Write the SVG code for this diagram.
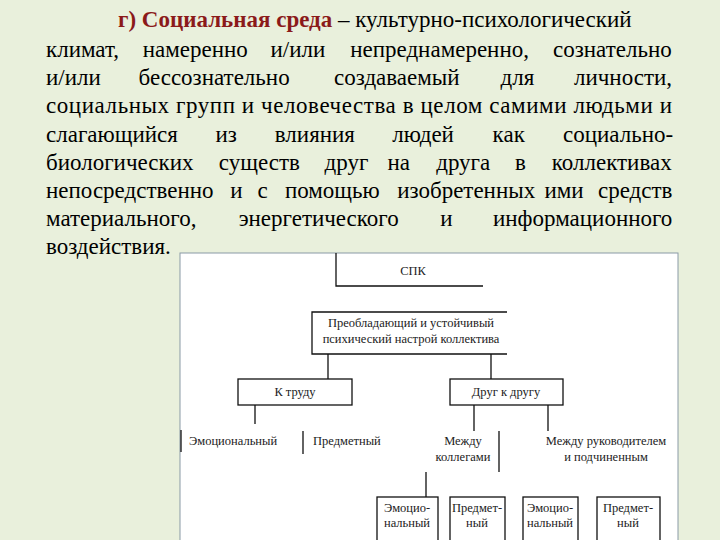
<svg xmlns="http://www.w3.org/2000/svg" width="720" height="540" viewBox="0 0 720 540">
<style>
.t{font-family:"Liberation Serif",serif;font-size:23px;fill:#000}
.r{fill:#8b1a1a;font-weight:bold}
.d{font-family:"Liberation Serif",serif;font-size:12.5px;fill:#222}
.l{stroke:#111;stroke-width:1.3;fill:none}
</style>
<rect width="720" height="540" fill="#e9f0dc"/>
<g id="text">
<text class="t" x="118" y="27"><tspan class="r">г) Социальная среда</tspan> – культурно-психологический</text>
<text class="t" y="57"><tspan x="46">климат,</tspan><tspan x="142.7">намеренно</tspan><tspan x="270.5">и/или</tspan><tspan x="350.2">непреднамеренно,</tspan><tspan x="553">сознательно</tspan></text>
<text class="t" y="85"><tspan x="46">и/или</tspan><tspan x="138.5">бессознательно</tspan><tspan x="334">создаваемый</tspan><tspan x="500.5">для</tspan><tspan x="574">личности,</tspan></text>
<text class="t" x="46" y="113" textLength="626" lengthAdjust="spacing">социальных групп и человечества в целом самими людьми и</text>
<text class="t" y="142"><tspan x="46">слагающийся</tspan><tspan x="215.4">из</tspan><tspan x="274.8">влияния</tspan><tspan x="392.2">людей</tspan><tspan x="492.6">как</tspan><tspan x="563">социально-</tspan></text>
<text class="t" y="170"><tspan x="46">биологических</tspan><tspan x="218.8">существ</tspan><tspan x="324.6">друг</tspan><tspan x="387.4">на</tspan><tspan x="436.2">друга</tspan><tspan x="515">в</tspan><tspan x="551.8">коллективах</tspan></text>
<text class="t" y="198"><tspan x="46">непосредственно</tspan><tspan x="230.3">и</tspan><tspan x="257.6">с</tspan><tspan x="284.9">помощью</tspan><tspan x="397.2">изобретенных</tspan><tspan x="544.5">ими</tspan><tspan x="598">средств</tspan></text>
<text class="t" y="226"><tspan x="46">материального,</tspan><tspan x="238.7">энергетического</tspan><tspan x="440.3">и</tspan><tspan x="493">информационного</tspan></text>
<text class="t" x="46" y="254">воздействия.</text>
</g>
<rect x="180" y="253" width="498" height="290" fill="#fff" stroke="#8a9aa6" stroke-width="1"/>
<g id="connectors">
<path class="l" d="M328 354V379M491 354V379M255 405V424M474 405V431M548 405V431M181 430V452M303 431V454M499 431V472M426 472V497"/>
</g>
<g id="spk"><path class="l" d="M336 253V286H483"/><text class="d" x="413" y="275" text-anchor="middle">СПК</text></g>
<g id="mood"><path class="l" d="M507 312H312V354H507"/><text class="d" x="411" y="327" text-anchor="middle">Преобладающий и устойчивый</text><text class="d" x="411" y="343" text-anchor="middle">психический настрой коллектива</text></g>
<g id="work"><rect class="l" x="238" y="379" width="114" height="26"/><text class="d" x="295" y="396" text-anchor="middle">К труду</text></g>
<g id="each"><rect class="l" x="450" y="379" width="113" height="26"/><text class="d" x="506" y="396" text-anchor="middle">Друг к другу</text></g>
<g id="emo1"><text class="d" x="189" y="445">Эмоциональный</text></g>
<g id="obj1"><text class="d" x="313" y="445">Предметный</text></g>
<g id="colleagues"><text class="d" x="463" y="445" text-anchor="middle">Между</text><text class="d" x="463" y="461" text-anchor="middle">коллегами</text></g>
<g id="boss"><text class="d" x="606" y="445" text-anchor="middle">Между руководителем</text><text class="d" x="606" y="461" text-anchor="middle">и подчиненным</text></g>
<g id="b1"><rect class="l" x="377" y="497" width="61" height="50"/><text class="d" x="407" y="512" text-anchor="middle">Эмоцио-</text><text class="d" x="407" y="527" text-anchor="middle">нальный</text></g>
<g id="b2"><rect class="l" x="450" y="497" width="55" height="50"/><text class="d" x="477" y="512" text-anchor="middle">Предмет-</text><text class="d" x="477" y="527" text-anchor="middle">ный</text></g>
<g id="b3"><rect class="l" x="523" y="497" width="55" height="50"/><text class="d" x="550" y="512" text-anchor="middle">Эмоцио-</text><text class="d" x="550" y="527" text-anchor="middle">нальный</text></g>
<g id="b4"><rect class="l" x="597" y="497" width="63" height="50"/><text class="d" x="628" y="512" text-anchor="middle">Предмет-</text><text class="d" x="628" y="527" text-anchor="middle">ный</text></g>
</svg>
